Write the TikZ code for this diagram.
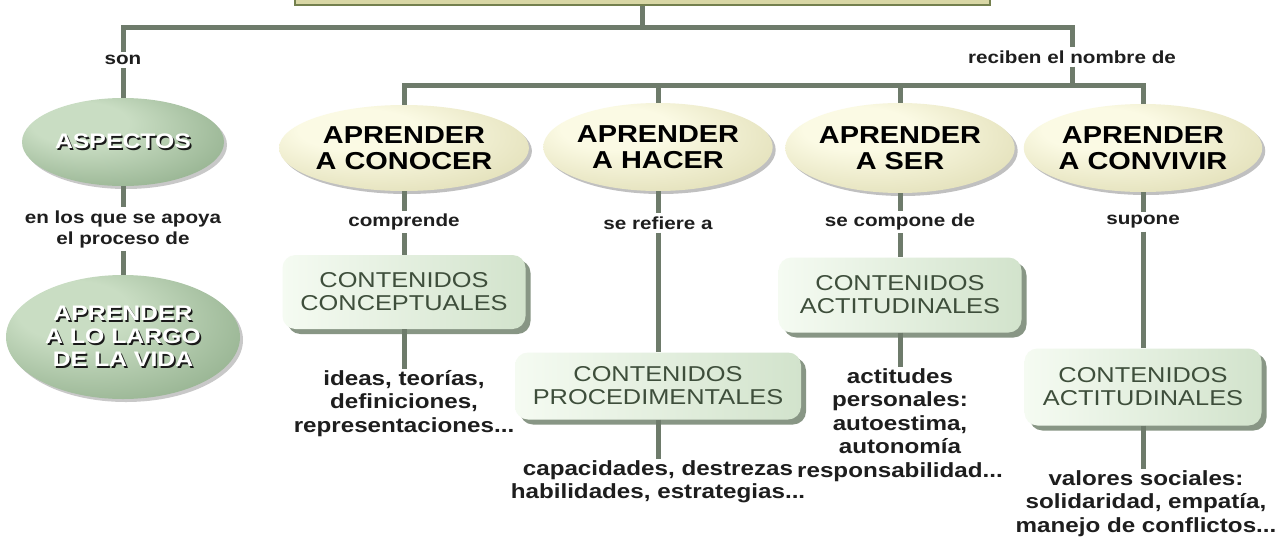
\documentclass[tikz,border=0pt]{standalone}
\usepackage{fontspec}
\setmainfont{Liberation Sans}[FakeStretch=1.18]
\usetikzlibrary{shapes.geometric,shadows}
\definecolor{linec}{HTML}{6E7B6B}
\definecolor{goldA}{HTML}{FBFAE4}
\definecolor{goldB}{HTML}{DCD9AE}
\definecolor{goldC}{HTML}{9E9C76}
\definecolor{grnA}{HTML}{C9DDC3}
\definecolor{grnB}{HTML}{89A884}
\definecolor{grnC}{HTML}{4C6748}
\definecolor{boxL}{HTML}{F5FBF2}
\definecolor{boxR}{HTML}{D2E3CC}
\definecolor{boxS}{HTML}{7C8B78}
\definecolor{boxT}{HTML}{3E4E3B}
\definecolor{txt}{HTML}{1E1E1E}
\definecolor{topF}{HTML}{D9D7A5}
\definecolor{topD}{HTML}{74804E}
\pgfdeclareradialshading{goldsh}{\pgfpoint{-12bp}{14bp}}{color(0bp)=(goldA); color(12bp)=(goldA); color(40bp)=(goldB); color(50bp)=(goldC)}
\pgfdeclareradialshading{grnsh}{\pgfpoint{-14bp}{14bp}}{color(0bp)=(grnA); color(12bp)=(grnA); color(40bp)=(grnB); color(50bp)=(grnC)}
\newcommand\shtx[1]{\makebox[0pt][l]{\raisebox{-1.6pt}{\hspace{1.6pt}\textcolor{black!90}{#1}}}#1}
\tikzset{
  conn/.style={draw=linec, line width=5pt},
  goldell/.style={ellipse, inner sep=0pt, shading=goldsh,
    drop shadow={shadow xshift=3pt, shadow yshift=-3pt, opacity=0.35, fill=black!70},
    font=\bfseries\fontsize{24.5}{25.5}\selectfont, align=center, text=black},
  grnell/.style={ellipse, inner sep=0pt, shading=grnsh,
    drop shadow={shadow xshift=3pt, shadow yshift=-3pt, opacity=0.3, fill=black!70},
    font=\bfseries\fontsize{21}{23}\selectfont, align=center, text=white},
  cbox/.style={rectangle, rounded corners=13pt, inner sep=0pt, left color=boxL, right color=boxR,
    drop shadow={shadow xshift=5pt, shadow yshift=-5pt, opacity=0.9, fill=boxS},
    font=\fontsize{21.5}{23}\selectfont, align=center, text=boxT},
  lab/.style={fill=white, inner sep=3pt, font=\bfseries\fontsize{17.5}{21}\selectfont, align=center, text=txt},
  desc/.style={inner sep=1pt, anchor=north, font=\bfseries\fontsize{20.5}{23.5}\selectfont, align=center, text=txt},
  topbox/.style={rectangle, fill=topF, draw=topD, line width=2pt, minimum width=695pt, minimum height=40pt}
}
\begin{document}
\begin{tikzpicture}[x=1pt,y=-1pt]
\useasboundingbox (0,0) rectangle (1285,536);
\clip (0,0) rectangle (1285,536);
\fill[white] (0,0) rectangle (1285,536);
% top box (cut off)
\node[topbox] (top) at (642,-15) {};
\coordinate (tr) at (1072,27);
\coordinate (rb) at (1072,85);
\coordinate (b4) at (1143,85);
% left column
\node[lab] (son) at (123,60) {son};
\node[grnell, minimum width=202pt, minimum height=88pt] (asp) at (123,142) {\shtx{ASPECTOS}};
\node[lab] (apoya) at (123,229) {en los que se apoya\\el proceso de};
\node[grnell, minimum width=234pt, minimum height=124pt] (vida) at (123,337)
  {\shtx{APRENDER}\\\shtx{A LO LARGO}\\\shtx{DE LA VIDA}};
\node[lab] (rec) at (1072,57) {reciben el nombre de};
% four pillars
\node[goldell, minimum width=192pt, minimum height=86pt] (con) at (404,148) {APRENDER\\A CONOCER};
\node[goldell, minimum width=190pt, minimum height=88pt] (hac) at (658,147) {APRENDER\\A HACER};
\node[goldell, minimum width=196pt, minimum height=90pt] (ser) at (900,148) {APRENDER\\A SER};
\node[goldell, minimum width=194pt, minimum height=88pt] (conv) at (1143,148) {APRENDER\\A CONVIVIR};
\node[lab] (l1) at (404,222) {comprende};
\node[lab] (l2) at (658,223) {se refiere a};
\node[lab] (l3) at (900,222) {se compone de};
\node[lab] (l4) at (1143,222) {supone};
\node[cbox, minimum width=243pt, minimum height=74pt] (cc) at (404,292) {CONTENIDOS\\CONCEPTUALES};
\node[cbox, minimum width=286pt, minimum height=67pt] (cp) at (658,386) {CONTENIDOS\\PROCEDIMENTALES};
\node[cbox, minimum width=243pt, minimum height=75pt] (ca1) at (900,295) {CONTENIDOS\\ACTITUDINALES};
\node[cbox, minimum width=237pt, minimum height=77pt] (ca2) at (1143,387) {CONTENIDOS\\ACTITUDINALES};
\node[desc] (t1) at (404,369) {ideas, teorías,\\definiciones,\\representaciones...};
\node[desc] (t2) at (658,459) {capacidades, destrezas\\habilidades, estrategias...};
\node[desc] (t3) at (900,367) {actitudes\\personales:\\autoestima,\\autonomía\\responsabilidad...};
\node[desc] (t4) at (1146,469) {valores sociales:\\solidaridad, empatía,\\manejo de conflictos...};
% connectors
\draw[conn] (top.south) -- (top.south |- tr);
\draw[conn] (son.north) |- (tr) -- (rec.north);
\draw[conn] (son.south) -- (asp.north);
\draw[conn] (asp.south) -- (apoya.north);
\draw[conn] (apoya.south) -- (vida.north);
\draw[conn] (rec.south) -- (rb);
\draw[conn] (con.north) |- (b4) -- (conv.north);
\draw[conn] (hac.north) -- (hac.north |- rb);
\draw[conn] (ser.north) -- (ser.north |- rb);
\draw[conn] (con.south) -- (l1.north);
\draw[conn] (hac.south) -- (l2.north);
\draw[conn] (ser.south) -- (l3.north);
\draw[conn] (conv.south) -- (l4.north);
\draw[conn] (l1.south) -- (cc.north);
\draw[conn] (l2.south) -- (cp.north);
\draw[conn] (l3.south) -- (ca1.north);
\draw[conn] (l4.south) -- (ca2.north);
\draw[conn] (cc.south) -- (t1.north);
\draw[conn] (cp.south) -- (t2.north);
\draw[conn] (ca1.south) -- (t3.north);
\draw[conn] (ca2.south) -- (ca2.south |- t4.north);
\end{tikzpicture}
\end{document}
